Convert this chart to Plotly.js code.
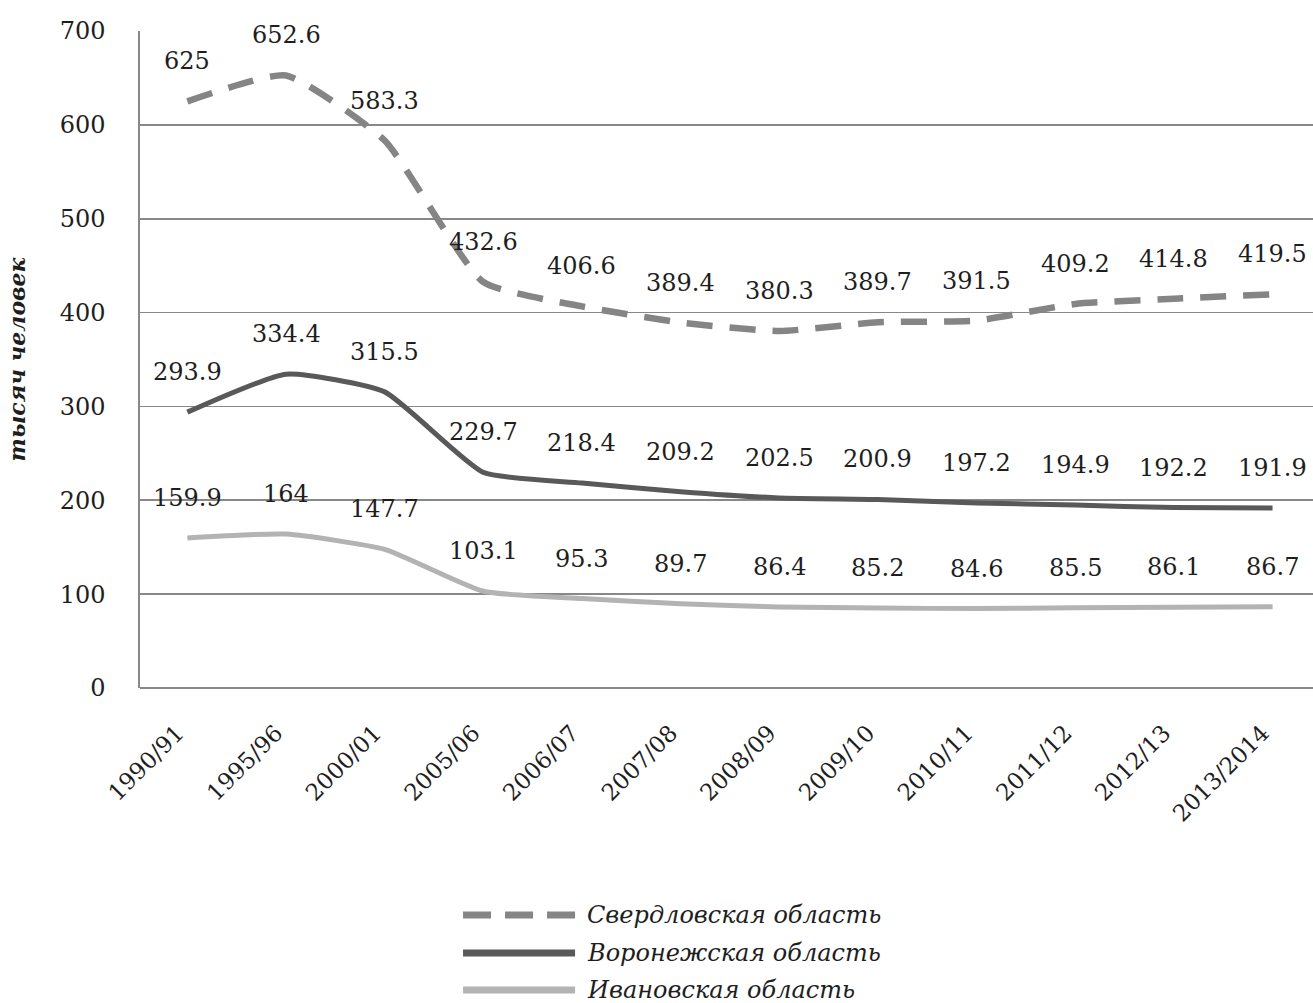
<!DOCTYPE html>
<html><head><meta charset="utf-8">
<script src="https://cdn.plot.ly/plotly-3.0.1.min.js"></script>
<style>html,body{margin:0;padding:0;background:#fff}</style>
</head><body><div id="chart" style="width:1313px;height:1003px"></div>
<script>
const years = ["1990/91","1995/96","2000/01","2005/06","2006/07","2007/08","2008/09","2009/10","2010/11","2011/12","2012/13","2013/2014"];
const sverdlovsk = [625,652.6,583.3,432.6,406.6,389.4,380.3,389.7,391.5,409.2,414.8,419.5];
const voronezh = [293.9,334.4,315.5,229.7,218.4,209.2,202.5,200.9,197.2,194.9,192.2,191.9];
const ivanovo = [159.9,164,147.7,103.1,95.3,89.7,86.4,85.2,84.6,85.5,86.1,86.7];
const names = ["Свердловская область","Воронежская область","Ивановская область"];
const yTitle = "тысяч человек";

const FONT = "DejaVu Serif, Liberation Serif, serif";
const series = [
  {y: sverdlovsk, name: names[0], color: "#858585", width: 6.5, dash: "26px,17px", legDash: "28px,14px"},
  {y: voronezh, name: names[1], color: "#595959", width: 5, dash: "solid", legDash: "solid"},
  {y: ivanovo, name: names[2], color: "#b3b3b3", width: 5, dash: "solid", legDash: "solid"}
];

const traces = series.map(s => ({
  type: "scatter", mode: "lines", x: years, y: s.y, name: s.name,
  line: {color: s.color, width: s.width, dash: s.dash, shape: "spline", smoothing: 0.5},
  showlegend: false, hoverinfo: "skip"
}));

const annotations = [];
series.forEach(s => {
  s.y.forEach((v, i) => {
    annotations.push({x: years[i], y: v, xref: "x", yref: "y", text: String(v),
      showarrow: false, yshift: 40, font: {family: FONT, size: 24, color: "#1e1e1e"}});
  });
});

// custom legend
const legRows = [-0.3456, -0.4034, -0.4597];
const shapes = [];
series.forEach((s, k) => {
  shapes.push({type: "line", xref: "paper", yref: "paper", x0: 0.2754, x1: 0.3709,
    y0: legRows[k], y1: legRows[k], line: {color: s.color, width: 7, dash: s.legDash}});
  annotations.push({xref: "paper", yref: "paper", x: 0.3794, y: legRows[k], xanchor: "left", yanchor: "middle",
    text: "<i>" + s.name + "</i>", showarrow: false, font: {family: FONT, size: 24, color: "#1e1e1e"}});
});

const layout = {
  width: 1313, height: 1003,
  margin: {l: 140, r: 0, t: 31, b: 315},
  paper_bgcolor: "#fff", plot_bgcolor: "#fff",
  font: {family: FONT, size: 23, color: "#1e1e1e"},
  showlegend: false,
  xaxis: {type: "category", range: [-0.48, 11.41], tickangle: -45, showgrid: false,
    showline: false, zeroline: false, ticks: "", ticklabelstandoff: 26, ticklabelshift: -10,
    tickfont: {family: FONT, size: 23, color: "#1e1e1e"}},
  yaxis: {range: [0, 700], dtick: 100, showgrid: true, gridcolor: "#888888", gridwidth: 1.6,
    showline: true, linecolor: "#888888", linewidth: 1.6, zeroline: true, zerolinecolor: "#888888", zerolinewidth: 1.6,
    ticks: "", ticklabelstandoff: 28, tickfont: {family: FONT, size: 24, color: "#1e1e1e"},
    title: {text: "<b><i>" + yTitle + "</i></b>", standoff: 28, font: {family: FONT, size: 22, color: "#1e1e1e"}}},
  annotations: annotations,
  shapes: shapes
};

Plotly.newPlot("chart", traces, layout, {displayModeBar: false, staticPlot: true});
</script></body></html>
